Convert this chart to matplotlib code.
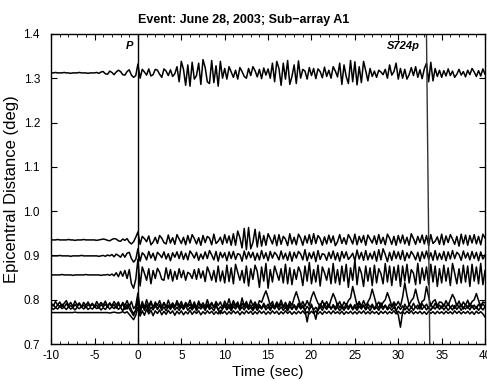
import numpy as np
import matplotlib
matplotlib.use("Agg")
import matplotlib.pyplot as plt

# sampling of the traces (sec)
t_start, dt = -10.0, 0.25

# trace baselines (deg)
distances = [1.312, 0.935, 0.899, 0.856, 0.790, 0.786, 0.781, 0.771]

# trace deviations from baseline, in units of 0.001 deg, one value per 0.25 s
trace_1312 = [
    0, 0, 1, 0, 0, 0, 1, 0, 0, -1, 0, 0, 0, 1, 0, 0, 0, -1, 0, 0,
    0, 1, -1, 2, 3, -2, -3, 4, 1, -4, 2, 6, 3, -4, -5, 3, 7, -5, -10, -6,
    20, -12, 8, 2, -5, 9, -7, -4, 8, 6, -3, -10, 9, 4, -6, 7, -8, -2, 14, -20,
    26, 8, -28, 18, -30, 24, -14, -6, 22, -26, 30, 12, -20, -24, 28, -22, 16, -30, 26, -12,
    10, -14, 14, 2, -10, 6, -14, 12, 3, -8, -12, 10, -6, 14, 5, -9, 8, -13, 11, -5,
    9, -12, 22, -20, 26, 10, -28, 22, -14, 28, -26, -8, 18, -24, 27, -12, 8, 4, -14, 12,
    -6, 10, -13, 9, 3, -11, 13, -8, 6, -12, 14, 4, -9, 22, -26, 18, -8, -24, 28, -20,
    25, -27, 14, -22, 26, 5, -18, 10, -8, 4, -10, 6, 2, -4, 8, -12, 18, -5, 3, 22,
    -14, 10, -12, 8, -14, -4, 12, -6, 14, -10, 7, -13, 9, 22, -20, 24, -18, 10, -8, 6,
    -10, 5, -7, 9, -6, 4, -10, -3, 8, -5, 3, -9, 6, -4, 10, 2, -8, 5, -7, 9,
    -3]
trace_0935 = [
    0, 0, 0, 1, 0, 0, 0, 0, 1, 0, 0, -1, 0, 0, 0, 1, 0, 0, 0, 0,
    0, -1, 0, 1, 2, 1, -1, -2, 1, 3, 2, -2, -3, 2, -1, 3, -5, -9, -4, 6,
    18, -10, 8, 3, -4, 9, -11, -5, 6, -8, 10, 4, -6, -9, 11, -7, 5, -10, 12, 2,
    -8, 6, -11, 10, -7, 12, 3, -9, 5, -12, 10, -6, 8, 4, -11, 13, -8, -3, 6, -10,
    12, -7, 9, -12, 14, -12, 20, 5, -18, 26, -22, 28, -20, -6, 24, -16, 18, -14, 10, -12,
    14, 3, -9, 11, -13, 12, -10, 8, 2, -13, 14, -9, 6, -11, 13, 4, -12, 9, -7, 12,
    -10, 14, -8, 10, 3, -12, 7, -9, 11, -6, 9, -13, -4, 12, -8, 5, -10, 12, 3, -9,
    13, -11, 8, -6, 10, -12, 11, 2, -7, 9, -10, 12, -8, 6, -11, 13, 4, -10, 8, -12,
    10, -7, 11, -9, 6, -12, 14, 3, -10, 8, -6, 11, -9, 10, -13, 12, -8, -3, 7, -10,
    13, -11, 9, -6, 12, 2, -10, 8, -14, 13, -9, 11, -12, 10, -7, 12, -9, 8, -11, 13,
    4]
trace_0899 = [
    0, 0, 0, 0, 1, 0, 0, 0, 0, -1, 0, 0, 0, 0, 1, 0, 0, 0, 0, 0,
    0, 0, -1, 0, 1, -1, 2, 0, 3, -2, 4, 1, -3, 5, -3, 6, 8, -6, -14, -8,
    16, -12, 7, 2, -9, 10, -5, 6, -10, 8, 3, -4, 9, -7, 5, -11, 7, -3, 9, -6,
    10, -8, 6, -9, 11, 4, -5, 8, -10, 4, -7, 9, -6, 12, 2, -9, 10, -12, 8, -4,
    7, -11, 9, -6, 10, -8, 5, 3, -12, 11, -7, 9, -4, 8, -10, 6, -9, 12, -6, 7,
    -11, 10, -5, 8, 2, -9, 11, -7, 6, -10, 9, -12, 8, -5, 10, 4, -9, 14, -11, 7,
    -6, 9, -13, 12, -8, 5, 3, -10, 8, -6, 11, -9, 7, -12, 10, -5, 9, -8, -2, 6,
    -11, 13, -7, 8, -10, 12, -9, 6, -7, 10, -12, 14, -9, 16, 3, -13, 8, -10, 11, -6,
    9, -8, 12, -11, 7, -5, 10, 2, -9, 8, -12, 9, -6, 11, -8, 7, -10, 12, -9, 6,
    -8, 10, -11, 9, -7, 12, -6, 8, 3, -10, 11, -5, 7, -9, 10, -6, 8, -11, 9, -7,
    2]
trace_0856 = [
    0, 0, 0, 0, 0, 1, 0, 0, 0, 0, -1, 0, 0, 0, 0, 0, 1, 0, 0, 0,
    0, 0, 0, -1, 0, 0, 1, -1, 2, -2, 5, -4, 8, -3, 10, -8, 12, -20, -30, -10,
    35, -25, 18, 4, -12, 14, -20, 10, -8, 15, 6, -10, -12, 16, -9, 12, -14, 8, -10, 14,
    -6, 10, -12, 6, 2, -8, 12, -10, 14, -7, 9, -15, 18, 5, -12, 10, -16, 20, -14, 9,
    -18, 22, -15, 16, -20, 24, 6, -12, 10, -18, 20, -25, 14, -10, 22, 8, -28, 18, -14, 26,
    -30, 12, -16, 20, 4, -12, 14, -18, 24, -20, 16, -22, 12, -10, 18, 6, -24, 20, -14, 28,
    -20, 12, -16, 22, -25, 18, 5, -12, 15, -20, 26, -18, 12, -22, 20, -14, 24, -28, 16, -12,
    34, -22, 18, 4, -26, 20, -14, 16, -24, 22, -18, 14, 3, -20, 26, -16, 20, -24, 18, -12,
    22, -26, 20, -14, 24, -18, 12, 4, -22, 26, -20, 16, -12, 18, -22, 24, -16, 20, -26, 14,
    -18, 22, -14, 16, -24, 26, 4, -20, 14, -18, 22, -16, 20, -26, 24, -14, 18, -20, 26, -22,
    10]
trace_0790 = [
    3, -4, 6, -2, 5, -6, 2, 8, -3, 4, -5, 7, -2, 3, -6, 4, -3, 5, -4, 2,
    -5, 6, -3, 4, -2, 7, -5, 3, -4, 6, -2, 5, -7, 4, -3, 8, -5, 6, -10, -4,
    25, -12, 6, -8, 10, -4, 7, -9, 5, -3, 8, -6, 4, -7, 9, -5, 3, -6, 8, -4,
    6, -7, 4, -3, 9, -6, 5, -8, 7, -4, 3, -6, 10, -5, 4, -7, 6, -3, 5, -8,
    7, -4, 12, -6, 8, -3, 5, -9, 14, -4, 6, -7, 9, -3, 5, -6, 8, 4, 18, 30,
    15, -3, 6, -8, 5, -4, 9, -6, 4, -7, 6, -3, 14, 28, 12, -3, 6, -5, 8, -4,
    16, 28, 14, 2, -5, 8, -4, 6, -7, 10, 24, 12, -4, 6, -7, 5, -3, 8, 14, 40,
    18, -3, 6, -5, 8, -4, 5, 14, 34, 16, -3, 5, -6, 4, 10, 26, 12, -4, 5, -3,
    6, -5, 16, 48, 20, -2, 8, 14, 34, 12, -4, 6, 10, 40, 16, -3, 6, 10, -4, 5,
    4, -5, 8, -3, 10, 22, 12, -4, 7, -6, 5, -3, 9, -5, 6, 10, 24, 8, -4, 5,
    3]
trace_0786 = [
    -2, 3, -4, 2, -1, 4, -3, 5, -2, 1, -4, 3, -2, 5, -3, 2, -4, 3, -1, 4,
    -3, 2, -5, 3, -2, 4, -3, 6, -2, 3, -5, 4, -2, 5, -8, 3, -6, -14, -22, -8,
    20, -16, 6, -10, 4, -6, 8, -3, 5, -8, 3, -5, 7, -4, 2, -6, 5, -3, 6, -4,
    3, -6, 5, -2, 4, -7, 3, -5, 6, -3, 2, -8, 4, -5, 6, -3, 5, -9, -18, -6,
    4, -5, 3, -6, 5, -2, 4, -7, 6, -3, 5, -4, 2, -6, 4, -8, 3, -5, 6, -3,
    4, -6, 3, -5, 7, -3, 5, -4, 2, -6, 4, -7, 3, -5, 6, -4, 2, -10, -36, -8,
    4, -12, -30, -6, 5, -4, 6, -3, 4, -7, 3, -5, 6, -4, 2, -6, 5, -3, 4, -6,
    3, -5, 6, -4, 2, -7, 5, -3, 4, -6, 3, -5, 7, -4, 2, -6, 4, -3, 5, -10,
    -20, -48, -14, 4, -6, 3, -5, 6, -4, 2, -7, 5, -3, 4, -6, 3, -5, 6, -4, 2,
    -5, 4, -3, 6, -4, 2, -6, 5, -3, 4, -7, 3, -5, 6, -4, 2, -6, 4, -3, 5,
    -2]
trace_0781 = [
    2, -3, 1, -2, 4, -1, 2, -3, 3, -2, 1, -4, 2, -1, 3, -2, 4, -3, 1, -2,
    3, -1, 2, -4, 1, -3, 4, -2, 3, -1, 5, -3, 2, -6, 4, -2, 8, -4, -12, -6,
    14, -8, 5, -3, 6, -7, 2, -4, 5, -2, 6, -5, 3, -6, 4, -3, 5, -4, 2, -5,
    4, -3, 6, -5, 2, -4, 5, -6, 3, -2, 4, -5, 6, -3, 2, -6, 5, -4, 3, -2,
    5, -4, 3, -6, 4, -2, 6, -5, 3, -4, 5, -3, 2, -6, 4, -5, 3, -2, 6, -4,
    3, -5, 4, -2, 6, -4, 3, -5, 2, -6, 4, -3, 5, -4, 6, -2, 3, -5, 4, -3,
    5, -4, 2, -6, 3, -5, 4, -3, 6, -2, 5, -4, 3, -6, 2, -5, 4, -3, 6, -4,
    3, -5, 4, -2, 6, -4, 3, -6, 5, -3, 2, -5, 4, -3, 6, -4, 2, -5, 3, -6,
    4, -3, 5, -4, 2, -6, 3, -5, 4, -2, 6, -3, 5, -4, 3, -5, 4, -2, 6, -3,
    5, -4, 3, -5, 2, -4, 6, -3, 4, -5, 3, -2, 5, -4, 6, -3, 4, -5, 2, -4,
    3]
trace_0771 = [
    0, 0, 0, 0, 0, 0, 0, 0, 0, 0, 0, 1, 0, 0, 0, 0, 0, 0, 0, 0,
    0, 0, 0, 0, 0, 0, 0, -1, 0, 1, 0, -1, 0, 2, -1, 2, -4, -10, -16, -6,
    12, -8, 4, -6, 8, -3, 5, -7, 4, -2, 6, -5, 3, -4, 5, -2, 4, -6, 3, -3,
    4, -5, 2, -3, 5, -4, 3, -2, 4, -5, 2, -3, 4, -2, 3, -4, 2, -3, 5, -2,
    3, -4, 2, -3, 4, -2, 3, -5, 2, -3, 4, -2, 3, -4, 2, -3, 4, -2, 3, -4,
    2, -3, 4, -2, 3, -4, 2, -3, 4, -2, 3, -4, 2, -3, 3, -2, 4, -3, 2, -3,
    3, -2, 4, -3, 2, -4, 3, -2, 3, -3, 4, -2, 2, -3, 3, -4, 2, -2, 3, -3,
    2, -3, 3, -2, 4, -3, 2, -3, 3, -2, 2, -4, 3, -2, 3, -3, 2, -2, 4, -3,
    3, -2, 2, -3, 3, -2, 4, -3, 2, -2, 3, -3, 2, -4, 3, -2, 2, -3, 3, -2,
    2, -3, 3, -2, 2, -3, 4, -2, 3, -3, 2, -2, 3, -3, 2, -4, 3, -2, 2, -3,
    -10]

traces = [trace_1312, trace_0935, trace_0899, trace_0856,
          trace_0790, trace_0786, trace_0781, trace_0771]

# phase picks: time (sec) vs distance (deg)
p_time, p_dist = [0.0, 0.0], [1.4, 0.7]
s_time, s_dist = [33.25, 33.63], [1.4, 0.7]

plt.rcParams['font.family'] = ['Liberation Sans', 'DejaVu Sans']
plt.rcParams['axes.unicode_minus'] = False

fig = plt.figure(figsize=(4.87, 3.81), dpi=100)
ax = fig.add_axes([0.105, 0.097, 0.891, 0.814])

for dist, tr in zip(distances, traces):
    tr = np.asarray(tr, dtype=float)
    t = t_start + dt * np.arange(len(tr))
    ax.plot(t, dist + tr / 1000.0, color='black', linewidth=1.1)

ax.plot(p_time, p_dist, color='black', linewidth=1.0)
ax.plot(s_time, s_dist, color='#333333', linewidth=1.0)
ax.text(-0.6, 1.373, 'P', fontsize=8, fontweight='bold', style='italic',
        ha='right', va='center')
ax.text(32.5, 1.373, 'S724p', fontsize=8, fontweight='bold', style='italic',
        ha='right', va='center')

ax.set_xlim(-10, 40)
ax.set_ylim(0.7, 1.4)
ax.set_xticks(np.arange(-10, 41, 5))
ax.set_xticks(np.arange(-10, 41, 1), minor=True)
ax.set_yticks(np.arange(0.7, 1.41, 0.1))
ax.set_yticklabels(['0.7', '0.8', '0.9', '1.0', '1.1', '1.2', '1.3', '1.4'])
ax.tick_params(which='both', direction='in', top=True, right=True, labelsize=8.5)
ax.tick_params(which='major', length=4)
ax.tick_params(which='minor', length=2)
ax.tick_params(axis='x', pad=4.5)
ax.tick_params(axis='y', pad=8)
for s in ax.spines.values():
    s.set_linewidth(1.0)

ax.set_xlabel('Time (sec)', fontsize=11, labelpad=2)
ax.set_ylabel('Epicentral Distance (deg)', fontsize=12, labelpad=3)
fig.text(0.5, 0.9475, 'Event: June 28, 2003; Sub\u2212array A1', fontsize=9,
         fontweight='bold', ha='center', va='center')

fig.savefig('out.png', dpi=100)
